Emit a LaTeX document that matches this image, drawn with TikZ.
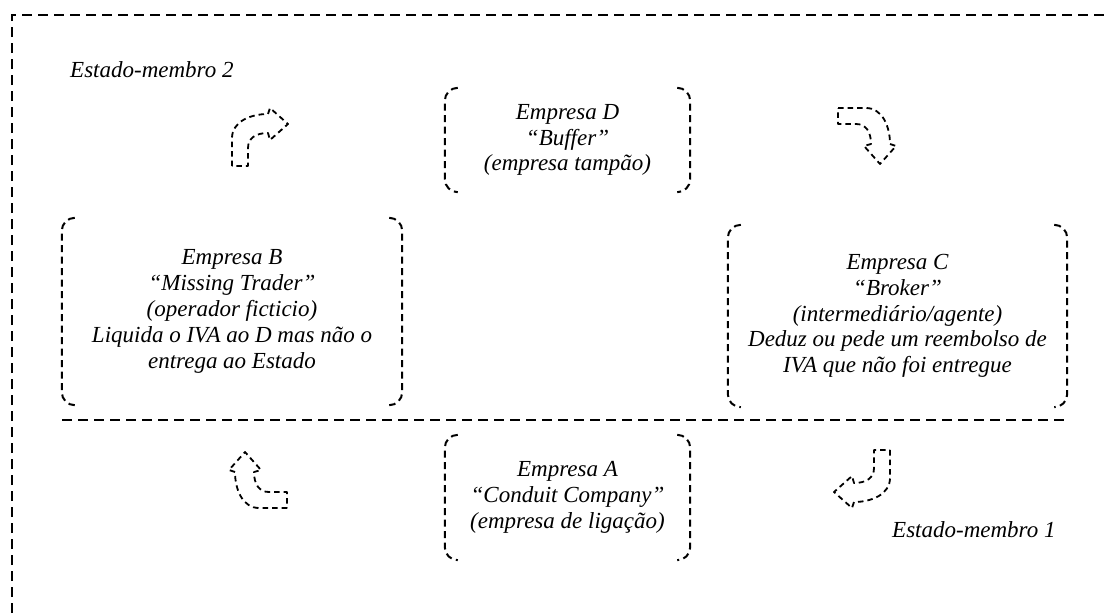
\documentclass[tikz,border=0pt]{standalone}
\usepackage{fontspec}
\setmainfont{Liberation Serif}
\tikzset{
  bracket/.style={line width=2pt, dash pattern=on 7pt off 4.5pt, rounded corners=13pt},
  frameline/.style={line width=2pt, dash pattern=on 10pt off 6pt},
  box/.style={align=center, inner sep=0pt, font=\fontsize{23}{25.8}\selectfont\itshape},
  lbl/.style={inner sep=0pt, font=\fontsize{23}{25.8}\selectfont\itshape},
  curvarrow/.pic={
    \draw[line width=1.8pt, dash pattern=on 5.5pt off 4pt, line join=round]
      (-28,26) -- (-28,-2) .. controls (-28,-18) and (-10,-26) .. (8,-26)
      -- (10,-32) -- (28,-16) -- (10,0) -- (8,-7)
      .. controls (-4,-7) and (-12,-2) .. (-12,8) -- (-12,26) -- cycle;
  }
}
\begin{document}
\begin{tikzpicture}[x=1pt,y=-1pt]
\useasboundingbox (0,0) rectangle (1110,613);
% outer frame and divider
\draw[frameline] (12,613) -- (12,15) -- (1110,15);
\draw[frameline] (62,420) -- (1065,420);
% labels
\node[lbl, anchor=base west] (em2) at (70,77) {Estado-membro 2};
\node[lbl, anchor=base west] (em1) at (892,537) {Estado-membro 1};
% boxes
\node[box, minimum width=245pt, minimum height=104pt] (D) at (567.5,140)
  {Empresa D\\“Buffer”\\(empresa tampão)};
\node[box, minimum width=340pt, minimum height=187pt] (B) at (232,311.5)
  {Empresa B\\“Missing Trader”\\(operador ficticio)\\Liquida o IVA ao D mas não o\\entrega ao Estado};
\node[box, minimum width=339pt, minimum height=182pt] (C) at (897.5,316)
  {Empresa C\\“Broker”\\(intermediário/agente)\\Deduz ou pede um reembolso de\\IVA que não foi entregue};
\node[box, minimum width=245pt, minimum height=125pt] (A) at (567.5,497.5)
  {Empresa A\\“Conduit Company”\\(empresa de ligação)};
\foreach \n/\dy in {D/0,B/0,C/2,A/2}{
  \begin{scope}[yshift=\dy pt]
  \draw[bracket] ([xshift=13pt]\n.north west) -- (\n.north west) -- (\n.south west) -- ([xshift=13pt]\n.south west);
  \draw[bracket] ([xshift=-13pt]\n.north east) -- (\n.north east) -- (\n.south east) -- ([xshift=-13pt]\n.south east);
  \end{scope}
}
% curved block arrows
\pic at (260,140) {curvarrow};
\pic[rotate=-90] at (864,136) {curvarrow};
\pic[rotate=180] at (862,476) {curvarrow};
\pic[rotate=90] at (261,480) {curvarrow};
\end{tikzpicture}
\end{document}
